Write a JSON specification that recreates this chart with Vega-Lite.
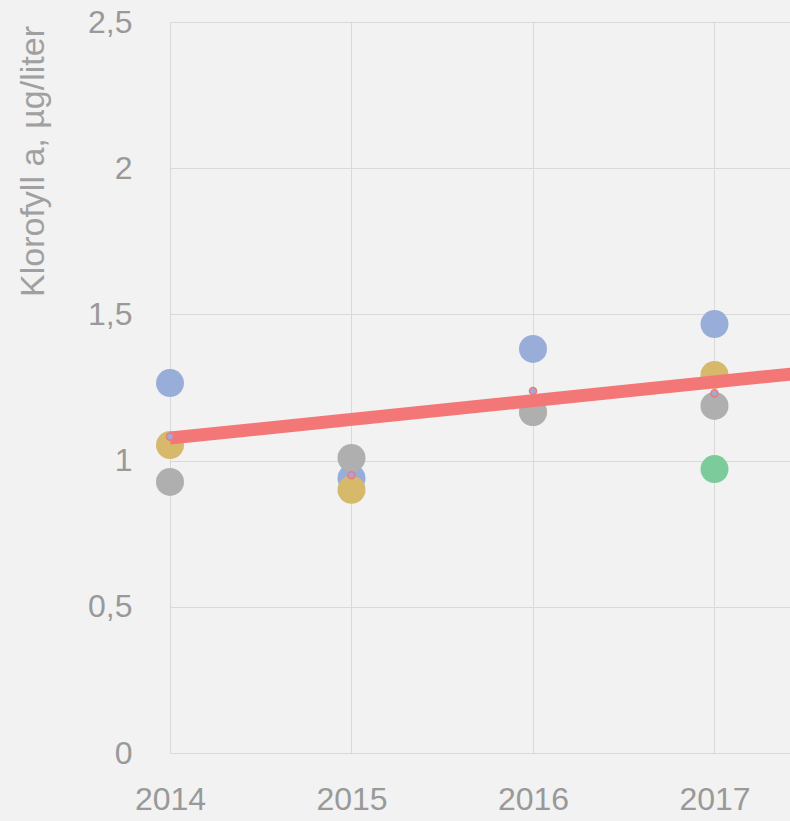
{
  "$schema": "https://vega.github.io/schema/vega-lite/v6.json",
  "width": 620,
  "height": 731,
  "autosize": "none",
  "padding": {"left": 170, "top": 22, "right": 0, "bottom": 68},
  "background": "#f2f2f2",
  "config": {
    "view": {"stroke": null},
    "font": "Liberation Sans",
    "axis": {
      "gridColor": "#d9d9d9",
      "gridWidth": 1,
      "domainColor": "#d9d9d9",
      "ticks": false,
      "labelColor": "#999999",
      "labelFont": "Liberation Sans",
      "labelFontSize": 32,
      "titleColor": "#a0a0a0",
      "titleFont": "Liberation Sans",
      "titleFontWeight": "normal"
    }
  },
  "datasets": {
    "points": [
      {"year": 2014, "serie": "A", "value": 1.265},
      {"year": 2015, "serie": "A", "value": 0.94},
      {"year": 2016, "serie": "A", "value": 1.382},
      {"year": 2017, "serie": "A", "value": 1.467},
      {"year": 2014, "serie": "B", "value": 1.053},
      {"year": 2015, "serie": "B", "value": 0.90},
      {"year": 2016, "serie": "B", "value": 1.166},
      {"year": 2017, "serie": "B", "value": 1.293},
      {"year": 2014, "serie": "C", "value": 0.927},
      {"year": 2015, "serie": "C", "value": 1.009},
      {"year": 2016, "serie": "C", "value": 1.166},
      {"year": 2017, "serie": "C", "value": 1.187},
      {"year": 2017, "serie": "D", "value": 0.971}
    ],
    "means": [
      {"year": 2014, "value": 1.082},
      {"year": 2015, "value": 0.950},
      {"year": 2016, "value": 1.238},
      {"year": 2017, "value": 1.230}
    ],
    "trend": [
      {"year": 2014, "value": 1.077},
      {"year": 2018, "value": 1.333}
    ]
  },
  "layer": [
    {
      "data": {"name": "points"},
      "mark": {"type": "circle", "size": 784, "opacity": 1},
      "encoding": {
        "x": {
          "field": "year", "type": "quantitative",
          "scale": {"domain": [2014, 2017.416], "nice": false, "zero": false},
          "axis": {
            "values": [2014, 2015, 2016, 2017],
            "format": "d",
            "title": null,
            "labelPadding": 31,
            "labelFlush": false,
            "domain": true
          }
        },
        "y": {
          "field": "value", "type": "quantitative",
          "scale": {"domain": [0, 2.5], "nice": false},
          "axis": {
            "values": [0, 0.5, 1, 1.5, 2, 2.5],
            "labelExpr": "replace(toString(datum.value), '.', ',')",
            "labelPadding": 38,
            "domain": false,
            "title": "Klorofyll a, µg/liter",
            "titleFontSize": 34,
            "titleX": -127,
            "titleY": 139,
            "titleAlign": "center",
            "titleBaseline": "alphabetic",
            "titleAngle": -90
          }
        },
        "color": {
          "field": "serie", "type": "nominal",
          "scale": {"domain": ["A", "B", "C", "D"], "range": ["#98aed9", "#d6b96a", "#afafaf", "#7ccb9b"]},
          "legend": null
        },
        "order": {"field": "serie", "type": "nominal"}
      }
    },
    {
      "data": {"name": "trend"},
      "mark": {"type": "line", "color": "#f47778", "strokeWidth": 13, "strokeCap": "butt", "clip": true},
      "encoding": {
        "x": {"field": "year", "type": "quantitative"},
        "y": {"field": "value", "type": "quantitative"}
      }
    },
    {
      "data": {"name": "means"},
      "mark": {"type": "point", "shape": "circle", "filled": true, "size": 50, "fill": "#98aed9", "stroke": "#f47778", "strokeWidth": 1.5, "opacity": 1},
      "encoding": {
        "x": {"field": "year", "type": "quantitative"},
        "y": {"field": "value", "type": "quantitative"}
      }
    }
  ]
}
